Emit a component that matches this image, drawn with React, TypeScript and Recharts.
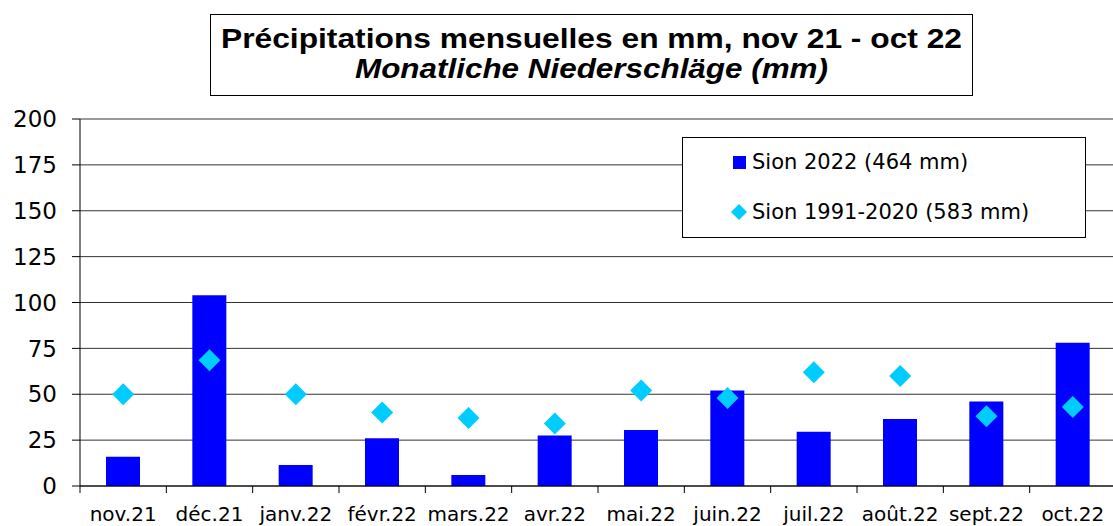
import React from "react";
import { ComposedChart, Bar, Line, XAxis, YAxis, CartesianGrid } from "recharts";

// monthly precipitation, Sion, nov 2021 - oct 2022
const months = ["nov.21", "déc.21", "janv.22", "févr.22", "mars.22", "avr.22", "mai.22", "juin.22", "juil.22", "août.22", "sept.22", "oct.22"];
const sion2022 = [16, 104, 11.5, 26, 6, 27.5, 30.5, 52, 29.5, 36.5, 46, 78];
const sionNorm = [50, 68.5, 50, 40, 37, 34, 52, 48, 62, 60, 38, 43];
const yTicks = [0, 25, 50, 75, 100, 125, 150, 175, 200];

const titleFr = "Précipitations mensuelles en mm, nov 21 - oct 22";
const titleDe = "Monatliche Niederschläge (mm)";
const legendBars = "Sion 2022 (464 mm)";
const legendNorm = "Sion 1991-2020 (583 mm)";

const data = months.map((m, i) => ({ month: m, y2022: sion2022[i], norm: sionNorm[i] }));

const CHART_W = 1120;
const CHART_H = 526;
const MARGIN = { top: 119, right: 4, bottom: 0, left: 0 };
const Y_W = 80;
const STEP = (CHART_W - MARGIN.left - MARGIN.right - Y_W) / months.length;

const BAR_BLUE = "#0000ff";
const DIAMOND = "#00ccff";
const FONT = "'DejaVu Sans', sans-serif";

function MonthTick(props: any) {
  const { x, y, payload, index } = props;
  return (
    <g>
      <line x1={x - STEP / 2} y1={y} x2={x - STEP / 2} y2={y + 7} stroke="#000" />
      {index === months.length - 1 && (
        <line x1={x + STEP / 2} y1={y} x2={x + STEP / 2} y2={y + 7} stroke="#000" />
      )}
      <text x={x} y={y + 35} textAnchor="middle" fontSize={20} fontFamily={FONT} fill="#000">
        {payload.value}
      </text>
    </g>
  );
}

function Diamond(props: any) {
  const { cx, cy } = props;
  if (cx == null || cy == null) return null;
  const r = 11;
  return <polygon points={`${cx},${cy - r} ${cx + r},${cy} ${cx},${cy + r} ${cx - r},${cy}`} fill={DIAMOND} />;
}

function LegendBox() {
  return (
    <svg width={404} height={101} style={{ position: "absolute", left: 682, top: 137 }}>
      <rect x={0.5} y={0.5} width={403} height={100} fill="#fff" stroke="#000" />
      <rect x={51} y={19} width={13} height={13} fill={BAR_BLUE} />
      <text x={70} y={32} fontSize={21} fontFamily={FONT} fill="#000">{legendBars}</text>
      <polygon points="57,67 65,75 57,83 49,75" fill={DIAMOND} />
      <text x={70} y={82} fontSize={21} fontFamily={FONT} fill="#000">{legendNorm}</text>
    </svg>
  );
}

export default function App() {
  return (
    <div style={{ position: "absolute", left: 0, top: 0, width: 1113, height: 526, overflow: "hidden", background: "#fff" }}>
      <ComposedChart width={CHART_W} height={CHART_H} data={data} margin={MARGIN}>
        <CartesianGrid vertical={false} stroke="#000" strokeOpacity={0.8} />
        <XAxis
          dataKey="month"
          height={40}
          tickLine={false}
          tickSize={0}
          tickMargin={0}
          axisLine={{ stroke: "#000" }}
          tick={<MonthTick />}
          interval={0}
        />
        <YAxis
          width={Y_W}
          domain={[0, 200]}
          ticks={yTicks}
          interval={0}
          tickSize={8}
          tickMargin={15}
          tickLine={{ stroke: "#000" }}
          axisLine={{ stroke: "#000" }}
          tick={{ fontSize: 23, fontFamily: FONT, fill: "#000" }}
        />
        <Bar dataKey="y2022" fill={BAR_BLUE} barSize={34} isAnimationActive={false} />
        <Line
          dataKey="norm"
          stroke="none"
          dot={<Diamond />}
          activeDot={false}
          isAnimationActive={false}
        />
      </ComposedChart>
      <LegendBox />
      <svg width={1113} height={110} style={{ position: "absolute", left: 0, top: 0 }}>
        <rect x={210.5} y={14.5} width={762} height={81} fill="#fff" stroke="#000" />
        <text x={591.5} y={48} textAnchor="middle" fontSize={28} fontWeight="bold"
          fontFamily="'Liberation Sans', Arial, sans-serif" textLength={741} lengthAdjust="spacingAndGlyphs">
          {titleFr}
        </text>
        <text x={591.5} y={78} textAnchor="middle" fontSize={28} fontWeight="bold" fontStyle="italic"
          fontFamily="'Liberation Sans', Arial, sans-serif" textLength={473} lengthAdjust="spacingAndGlyphs">
          {titleDe}
        </text>
      </svg>
    </div>
  );
}
